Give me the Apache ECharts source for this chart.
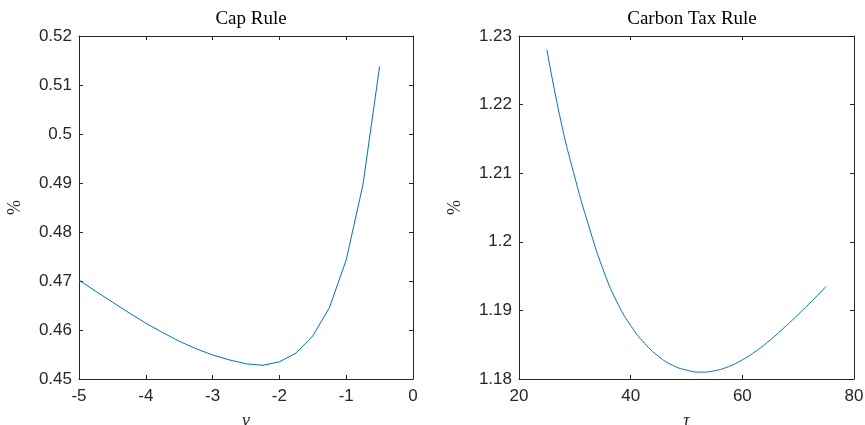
<!DOCTYPE html>
<html>
<head>
<meta charset="utf-8">
<script src="https://cdn.jsdelivr.net/npm/echarts@6/dist/echarts.min.js"></script>
<style>html,body{margin:0;padding:0;background:#fff;}#c{width:865px;height:425px;}</style>
</head>
<body>
<div id="c"></div>
<script>
// Cap Rule (left panel)
const nuValues = [-5, -4.75, -4.5, -4.25, -4, -3.75, -3.5, -3.25, -3, -2.75, -2.5, -2.25, -2, -1.75, -1.5, -1.25, -1, -0.75, -0.5];
const capWelfare = [0.4702, 0.4679, 0.4657, 0.4635, 0.4614, 0.4595, 0.4577, 0.4562, 0.4549, 0.4539, 0.4531, 0.4528, 0.4535, 0.4553, 0.4588, 0.4646, 0.4743, 0.4896, 0.5138];
// Carbon Tax Rule (right panel)
const tauValues = [25, 27.5, 30, 32.5, 35, 37.5, 40, 42.5, 45, 47.5, 50, 52.5, 55, 57.5, 60, 62.5, 65, 67.5, 70, 72.5, 75];
const taxWelfare = [1.2280, 1.2176, 1.2094, 1.2023, 1.1961, 1.1913, 1.1878, 1.1852, 1.1833, 1.1820, 1.1813, 1.1810, 1.1812, 1.1818, 1.1828, 1.1841, 1.1857, 1.1875, 1.1894, 1.1914, 1.1935];

const axisColor = '#262626';
const tickFont = {fontFamily: 'Liberation Sans', fontSize: 17, color: '#262626'};
const serif = 'Liberation Serif';

function xAx(gi, min, max, interval, name, top) {
  return {
    type: 'value', gridIndex: gi, min: min, max: max, interval: interval,
    position: top ? 'top' : 'bottom',
    name: top ? '' : name, nameLocation: 'middle', nameGap: 33,
    nameTextStyle: {fontFamily: serif, fontStyle: 'italic', fontSize: 18, color: '#262626'},
    axisLine: {show: true, onZero: false, lineStyle: {color: axisColor, width: 1}},
    axisTick: {show: true, inside: true, length: 4, lineStyle: {color: axisColor}},
    axisLabel: Object.assign({show: !top, margin: 9}, tickFont),
    splitLine: {show: false}
  };
}
function yAx(gi, min, max, interval, right) {
  return {
    type: 'value', gridIndex: gi, min: min, max: max, interval: interval,
    position: right ? 'right' : 'left',
    name: right ? '' : '%', nameLocation: 'middle', nameGap: 55, nameRotate: 90,
    nameTextStyle: {fontFamily: serif, fontSize: 18, color: '#262626'},
    axisLine: {show: true, onZero: false, lineStyle: {color: axisColor, width: 1}},
    axisTick: {show: true, inside: true, length: 4, lineStyle: {color: axisColor}},
    axisLabel: Object.assign({show: !right, margin: 7, formatter: v => String(+v.toFixed(2))}, tickFont),
    splitLine: {show: false}
  };
}

const chart = echarts.init(document.getElementById('c'), null, {renderer: 'canvas'});
chart.setOption({
  backgroundColor: '#fff',
  animation: false,
  title: [
    {text: 'Cap Rule', left: 246, top: 5, textAlign: 'center',
     textStyle: {fontFamily: serif, fontWeight: 'normal', fontSize: 19, color: '#000'}},
    {text: 'Carbon Tax Rule', left: 687, top: 5, textAlign: 'center',
     textStyle: {fontFamily: serif, fontWeight: 'normal', fontSize: 19, color: '#000'}}
  ],
  grid: [
    {left: 79, top: 36, width: 334, height: 343, outerBoundsMode: 'none', containLabel: false},
    {left: 519, top: 36, width: 335, height: 343, outerBoundsMode: 'none', containLabel: false}
  ],
  xAxis: [
    xAx(0, -5, 0, 1, 'ν', false),
    xAx(1, 20, 80, 20, 'τ', false),
    xAx(0, -5, 0, 1, '', true),
    xAx(1, 20, 80, 20, '', true)
  ],
  yAxis: [
    yAx(0, 0.45, 0.52, 0.01, false),
    yAx(1, 1.18, 1.23, 0.01, false),
    yAx(0, 0.45, 0.52, 0.01, true),
    yAx(1, 1.18, 1.23, 0.01, true)
  ],
  series: [
    {type: 'line', xAxisIndex: 0, yAxisIndex: 0, showSymbol: false, smooth: false,
     data: nuValues.map((x, i) => [x, capWelfare[i]]),
     lineStyle: {color: '#0072BD', width: 1}},
    {type: 'line', xAxisIndex: 1, yAxisIndex: 1, showSymbol: false, smooth: true,
     data: tauValues.map((x, i) => [x, taxWelfare[i]]),
     lineStyle: {color: '#0072BD', width: 1}}
  ]
});
</script>
</body>
</html>
